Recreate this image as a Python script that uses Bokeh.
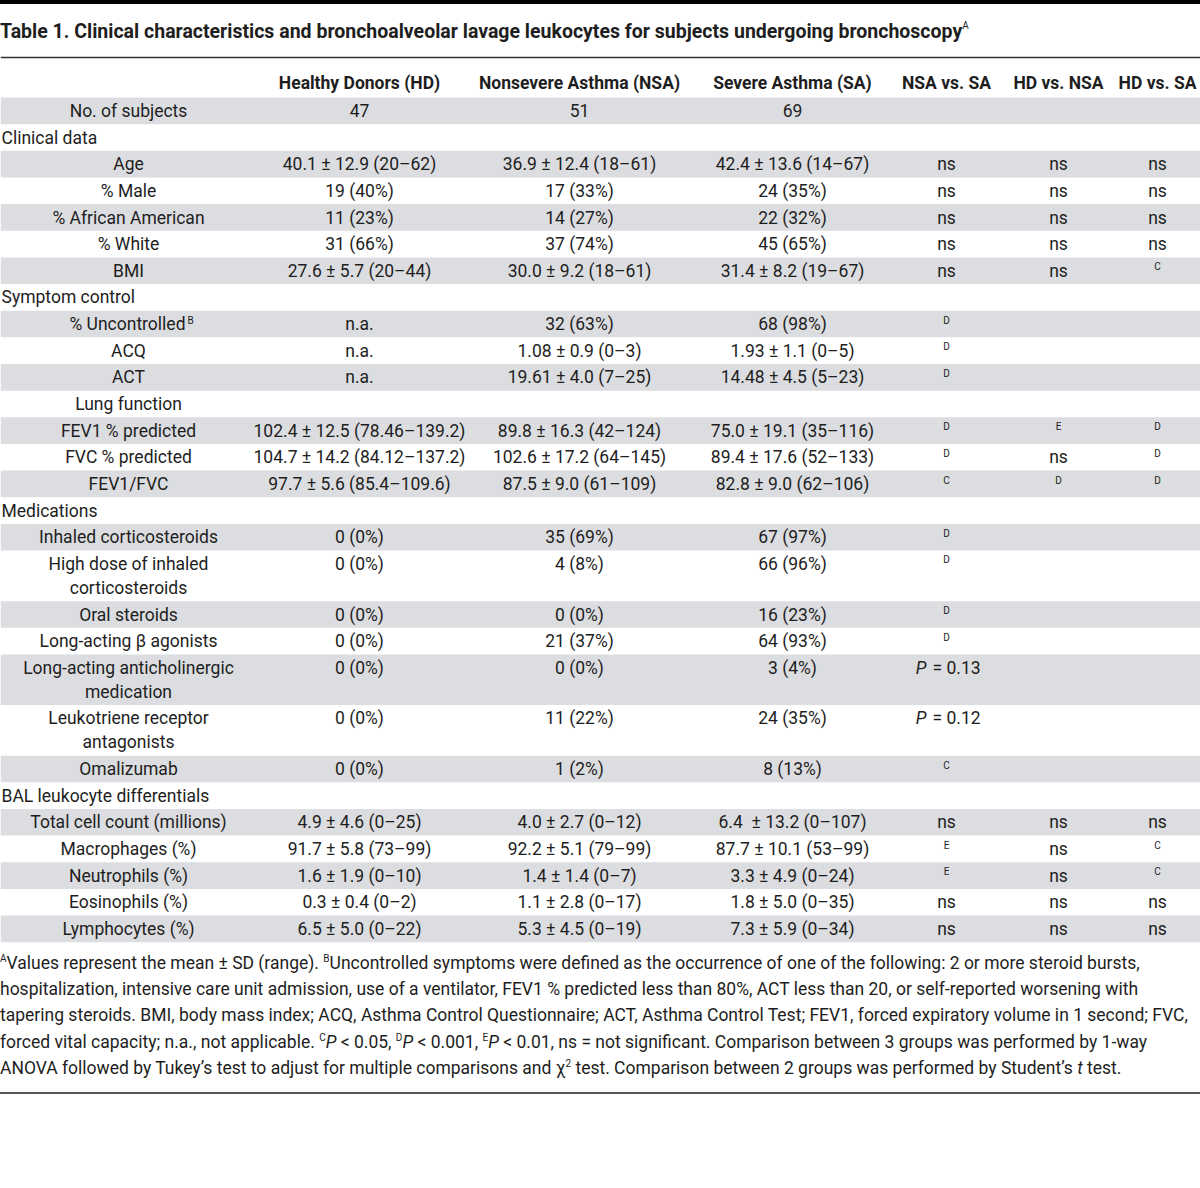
from bokeh.plotting import figure
from bokeh.models import Range1d, Span, Div
from bokeh.layouts import column
from bokeh.core.properties import value
from bokeh.embed import file_html
from bokeh.resources import INLINE

# ---------------- data ----------------
TITLE = ("Table 1. Clinical characteristics and bronchoalveolar lavage leukocytes "
         "for subjects undergoing bronchoscopy")
TITLE_NOTE = "A"

col_headers = ["Healthy Donors (HD)", "Nonsevere Asthma (NSA)", "Severe Asthma (SA)",
               "NSA vs. SA", "HD vs. NSA", "HD vs. SA"]

row_labels = ["No. of subjects", "Clinical data", "Age", "% Male", "% African American",
              "% White", "BMI", "Symptom control", "% Uncontrolled", "ACQ", "ACT",
              "Lung function", "FEV1 % predicted", "FVC % predicted", "FEV1/FVC",
              "Medications", "Inhaled corticosteroids",
              "High dose of inhaled\ncorticosteroids", "Oral steroids",
              "Long-acting β agonists", "Long-acting anticholinergic\nmedication",
              "Leukotriene receptor\nantagonists", "Omalizumab",
              "BAL leukocyte differentials", "Total cell count (millions)",
              "Macrophages (%)", "Neutrophils (%)", "Eosinophils (%)", "Lymphocytes (%)"]

row_kind = ["item", "section", "item", "item", "item", "item", "item", "section",
            "item", "item", "item", "item", "item", "item", "item", "section",
            "item", "item", "item", "item", "item", "item", "item", "section",
            "item", "item", "item", "item", "item"]

label_notes = {"% Uncontrolled": "B"}

hd = ["47", "", "40.1 ± 12.9 (20–62)", "19 (40%)", "11 (23%)", "31 (66%)",
      "27.6 ± 5.7 (20–44)", "", "n.a.", "n.a.", "n.a.", "",
      "102.4 ± 12.5 (78.46–139.2)", "104.7 ± 14.2 (84.12–137.2)", "97.7 ± 5.6 (85.4–109.6)",
      "", "0 (0%)", "0 (0%)", "0 (0%)", "0 (0%)", "0 (0%)", "0 (0%)", "0 (0%)", "",
      "4.9 ± 4.6 (0–25)", "91.7 ± 5.8 (73–99)", "1.6 ± 1.9 (0–10)", "0.3 ± 0.4 (0–2)",
      "6.5 ± 5.0 (0–22)"]

nsa = ["51", "", "36.9 ± 12.4 (18–61)", "17 (33%)", "14 (27%)", "37 (74%)",
       "30.0 ± 9.2 (18–61)", "", "32 (63%)", "1.08 ± 0.9 (0–3)", "19.61 ± 4.0 (7–25)", "",
       "89.8 ± 16.3 (42–124)", "102.6 ± 17.2 (64–145)", "87.5 ± 9.0 (61–109)",
       "", "35 (69%)", "4 (8%)", "0 (0%)", "21 (37%)", "0 (0%)", "11 (22%)", "1 (2%)", "",
       "4.0 ± 2.7 (0–12)", "92.2 ± 5.1 (79–99)", "1.4 ± 1.4 (0–7)", "1.1 ± 2.8 (0–17)",
       "5.3 ± 4.5 (0–19)"]

sa = ["69", "", "42.4 ± 13.6 (14–67)", "24 (35%)", "22 (32%)", "45 (65%)",
      "31.4 ± 8.2 (19–67)", "", "68 (98%)", "1.93 ± 1.1 (0–5)", "14.48 ± 4.5 (5–23)", "",
      "75.0 ± 19.1 (35–116)", "89.4 ± 17.6 (52–133)", "82.8 ± 9.0 (62–106)",
      "", "67 (97%)", "66 (96%)", "16 (23%)", "64 (93%)", "3 (4%)", "24 (35%)", "8 (13%)", "",
      "6.4\u00a0 ± 13.2 (0–107)", "87.7 ± 10.1 (53–99)", "3.3 ± 4.9 (0–24)", "1.8 ± 5.0 (0–35)",
      "7.3 ± 5.9 (0–34)"]

nsa_vs_sa = ["", "", "ns", "ns", "ns", "ns", "ns", "", "D", "D", "D", "",
             "D", "D", "C", "", "D", "D", "D", "D", "P = 0.13", "P = 0.12", "C", "",
             "ns", "E", "E", "ns", "ns"]

hd_vs_nsa = ["", "", "ns", "ns", "ns", "ns", "ns", "", "", "", "", "",
             "E", "ns", "D", "", "", "", "", "", "", "", "", "",
             "ns", "ns", "ns", "ns", "ns"]

hd_vs_sa = ["", "", "ns", "ns", "ns", "ns", "C", "", "", "", "", "",
            "D", "D", "D", "", "", "", "", "", "", "", "", "",
            "ns", "C", "C", "ns", "ns"]

sig_letters = ["C", "D", "E"]

SUP = "<sup style='font-size:10px;line-height:0;vertical-align:7px'>{}</sup>"
footnote_lines = [
    SUP.format("A") + "Values represent the mean ± SD (range). " + SUP.format("B")
    + "Uncontrolled symptoms were defined as the occurrence of one of the following: 2 or more steroid bursts,",
    "hospitalization, intensive care unit admission, use of a ventilator, FEV1 % predicted less than 80%, "
    "ACT less than 20, or self-reported worsening with",
    "tapering steroids. BMI, body mass index; ACQ, Asthma Control Questionnaire; ACT, Asthma Control Test; "
    "FEV1, forced expiratory volume in 1 second; FVC,",
    "forced vital capacity; n.a., not applicable. " + SUP.format("C") + "<i>P</i> &lt; 0.05, "
    + SUP.format("D") + "<i>P</i> &lt; 0.001, " + SUP.format("E")
    + "<i>P</i> &lt; 0.01, ns = not significant. Comparison between 3 groups was performed by 1-way",
    "ANOVA followed by Tukey’s test to adjust for multiple comparisons and χ" + SUP.format("2")
    + " test. Comparison between 2 groups was performed by Student’s <i>t</i> test.",
]

# ---------------- layout constants ----------------
FONT = "Roboto"
TXT = "#1e1e1e"
SHADE = "#dcdde0"
W = 1200
TITLE_H = 50
FIG_Y0, FIG_Y1 = 50, 950
FIG_H = FIG_Y1 - FIG_Y0
FOOT_H = 1188 - TITLE_H - FIG_H

X_LABEL = 128
COL_X = [359, 579, 792, 946, 1058, 1157]
Y_HEADER = 82
Y_TOP = 97
H1, H2 = 26.65, 50.6
BODY = "17.5px"
SUPSZ = "10px"

# ---------------- title ----------------
title_div = Div(
    text=("<div style='width:%dpx;box-sizing:border-box;border-top:4.5px solid #000;padding-top:15.5px;"
          "font-family:Roboto;font-weight:bold;font-size:19.5px;line-height:24px;color:%s;"
          "white-space:nowrap'>%s<sup style='font-size:10px;line-height:0;vertical-align:9px;"
          "font-weight:normal'>%s</sup></div>") % (W, TXT, TITLE, TITLE_NOTE),
    width=W, height=TITLE_H, margin=0)

# ---------------- table figure ----------------
p = figure(width=W, height=FIG_H, x_range=Range1d(0, W), y_range=Range1d(FIG_Y1, FIG_Y0),
           output_backend="svg", toolbar_location=None, x_axis_location=None,
           y_axis_location=None, min_border=0, outline_line_color=None,
           background_fill_color="white", border_fill_color="white")
p.xgrid.visible = False
p.ygrid.visible = False

p.add_layout(Span(location=57, dimension="width", line_color="#333333", line_width=1.4))

tops, bottoms, line1, line2 = [], [], [], []
y = Y_TOP
for lab in row_labels:
    h = H1 if "\n" not in lab else H2
    tops.append(y)
    bottoms.append(y + h)
    line1.append(y + 13.4)
    line2.append(y + 37.4)
    y += h

shade_idx = [i for i in range(len(row_labels)) if i % 2 == 0]
p.quad(left=0, right=W, top=[tops[i] for i in shade_idx],
       bottom=[bottoms[i] for i in shade_idx], fill_color=SHADE, line_color=None)

# header
p.text(x=COL_X, y=[Y_HEADER] * len(COL_X), text=col_headers, text_align="center",
       text_baseline="middle", text_font=value(FONT), text_font_style="bold",
       text_font_size="17.5px", text_color=TXT)

# labels
lab_x, lab_y, lab_t = [], [], []
sec_y, sec_t = [], []
note_x, note_y, note_t = [], [], []
rlab_x, rlab_y, rlab_t = [], [], []
for i, lab in enumerate(row_labels):
    if row_kind[i] == "section":
        sec_y.append(line1[i])
        sec_t.append(lab)
        continue
    if lab in label_notes:
        rlab_x.append(185)
        rlab_y.append(line1[i])
        rlab_t.append(lab)
        note_x.append(187)
        note_y.append(line1[i] - 4)
        note_t.append(label_notes[lab])
        continue
    parts = lab.split("\n")
    for k, part in enumerate(parts):
        lab_x.append(X_LABEL)
        lab_y.append(line1[i] if k == 0 else line2[i])
        lab_t.append(part)

common = dict(text_baseline="middle", text_font=value(FONT), text_color=TXT)
p.text(x=lab_x, y=lab_y, text=lab_t, text_align="center", text_font_size=BODY, **common)
p.text(x=rlab_x, y=rlab_y, text=rlab_t, text_align="right", text_font_size=BODY, **common)
p.text(x=note_x, y=note_y, text=note_t, text_align="left", text_font_size=SUPSZ, **common)
p.text(x=[1] * len(sec_t), y=sec_y, text=sec_t, text_align="left", text_font_size=BODY, **common)

# values
cols = [hd, nsa, sa, nsa_vs_sa, hd_vs_nsa, hd_vs_sa]
val_x, val_y, val_t = [], [], []
sup_x, sup_y, sup_t = [], [], []
pi_x, pi_y, pr_x, pr_t = [], [], [], []
for c, vals in enumerate(cols):
    for i, v in enumerate(vals):
        if not v:
            continue
        if v in sig_letters:
            sup_x.append(COL_X[c])
            sup_y.append(line1[i] - 4)
            sup_t.append(v)
        elif v.startswith("P "):
            pi_x.append(COL_X[c] - 20)
            pi_y.append(line1[i])
            pr_x.append(COL_X[c] - 14)
            pr_t.append(v[2:])
        else:
            val_x.append(COL_X[c])
            val_y.append(line1[i])
            val_t.append(v)

p.text(x=val_x, y=val_y, text=val_t, text_align="center", text_font_size=BODY, **common)
p.text(x=sup_x, y=sup_y, text=sup_t, text_align="center", text_font_size=SUPSZ, **common)
p.text(x=pi_x, y=pi_y, text=["P"] * len(pi_x), text_align="right", text_font_style="italic",
       text_font_size=BODY, **common)
p.text(x=pr_x, y=pi_y, text=pr_t, text_align="left", text_font_size=BODY, **common)

# ---------------- footnotes ----------------
foot_div = Div(
    text=("<div style='width:%dpx;box-sizing:border-box;font-family:Roboto;font-size:17.5px;"
          "line-height:26.2px;color:%s;white-space:nowrap;padding-bottom:10.5px;"
          "border-bottom:2.5px solid #555'>%s</div>") % (W, TXT, "<br>".join(footnote_lines)),
    width=W, height=FOOT_H, margin=0)

layout = column(title_div, p, foot_div, spacing=0)
open("out.html", "w").write(file_html(layout, INLINE))
